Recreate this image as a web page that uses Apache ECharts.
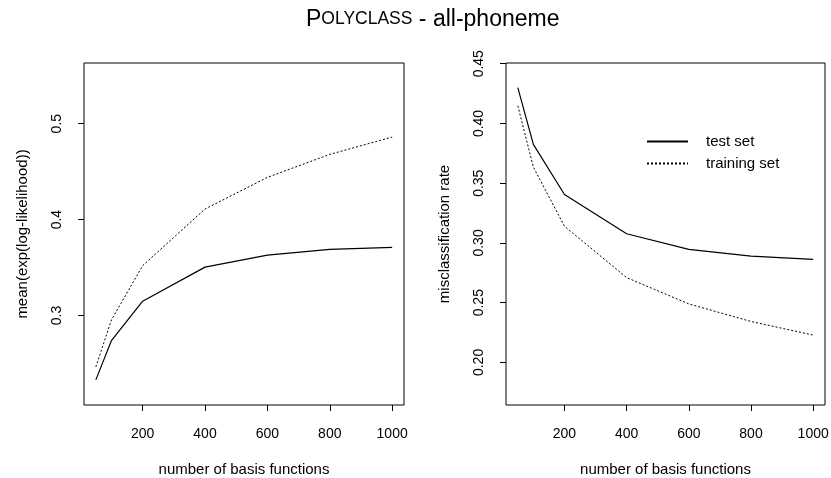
<!DOCTYPE html>
<html>
<head>
<meta charset="utf-8">
<script src="https://cdn.jsdelivr.net/npm/echarts@6/dist/echarts.min.js"></script>
<style>html,body{margin:0;padding:0;background:#fff}#c{width:831px;height:478px}</style>
</head>
<body>
<div id="c"></div>
<script>
// ---- data ----
const basisFunctions = [50, 100, 200, 400, 600, 800, 1000];
const likelihoodTest = [0.233, 0.274, 0.315, 0.3505, 0.363, 0.369, 0.371];
const likelihoodTrain = [0.2465, 0.2955, 0.352, 0.411, 0.444, 0.468, 0.486];
const misclassTest = [0.430, 0.3825, 0.3406, 0.3077, 0.2946, 0.289, 0.2862];
const misclassTrain = [0.4148, 0.3635, 0.314, 0.271, 0.249, 0.2343, 0.2229];
const xTicks = [200, 400, 600, 800, 1000];
const leftYTicks = [0.3, 0.4, 0.5];
const rightYTicks = [0.20, 0.25, 0.30, 0.35, 0.40, 0.45];
const seriesNames = ['test set', 'training set'];

// R-style 4% axis extension
function ext(lo, hi) { const d = (hi - lo) * 0.04; return [lo - d, hi + d]; }
const xr = ext(50, 1000);
const yl = ext(0.22, 0.55);
const yr = ext(0.175, 0.44);

const FONT = 'Liberation Sans, Arial, Helvetica, sans-serif';
const txt = { color: '#000', fontFamily: FONT, fontSize: 14, fontWeight: 'normal' };

function xAxis(i) {
  return {
    gridIndex: i, type: 'value', min: xr[0], max: xr[1],
    axisLine: { show: false },
    splitLine: { show: false },
    axisTick: { show: true, length: 6, customValues: xTicks, lineStyle: { color: '#000' } },
    axisLabel: Object.assign({ customValues: xTicks, margin: 22, formatter: v => String(v) }, txt),
    name: 'number of basis functions', nameLocation: 'middle', nameGap: 57,
    nameTextStyle: Object.assign({}, txt, { fontSize: 15 })
  };
}
function yAxis(i, r, ticks, dec, name) {
  return {
    gridIndex: i, type: 'value', min: r[0], max: r[1],
    axisLine: { show: false },
    splitLine: { show: false },
    axisTick: { show: true, length: 6, customValues: ticks, lineStyle: { color: '#000' } },
    axisLabel: Object.assign({ customValues: ticks, rotate: 90, margin: 20,
      formatter: v => v.toFixed(dec) }, txt),
    name: name, nameLocation: 'middle', nameGap: 54,
    nameTextStyle: Object.assign({}, txt, { fontSize: 15 })
  };
}
function pairs(ys) { return basisFunctions.map((x, k) => [x, ys[k]]); }
const solid = { color: '#000', width: 1.2, type: 'solid' };
const dotted = { color: '#000', width: 1, type: [2, 2] };

const chart = echarts.init(document.getElementById('c'), null, { renderer: 'canvas' });
chart.setOption({
  animation: false,
  backgroundColor: '#fff',
  title: {
    left: 301, top: 3,
    text: '{a|P}{b|OLYCLASS}{a| - all-phoneme}',
    textStyle: {
      fontWeight: 'normal',
      rich: {
        a: { fontFamily: FONT, fontSize: 23, color: '#000', fontWeight: 'normal' },
        b: { fontFamily: FONT, fontSize: 17.5, color: '#000', fontWeight: 'normal' }
      }
    }
  },
  grid: [
    { left: 84, top: 63, width: 320, height: 342, show: true, borderColor: '#000', borderWidth: 1, containLabel: false, outerBoundsMode: 'none' },
    { left: 506, top: 63, width: 319, height: 342, show: true, borderColor: '#000', borderWidth: 1, containLabel: false, outerBoundsMode: 'none' }
  ],
  xAxis: [xAxis(0), xAxis(1)],
  yAxis: [
    yAxis(0, yl, leftYTicks, 1, 'mean(exp(log-likelihood))'),
    yAxis(1, yr, rightYTicks, 2, 'misclassification rate')
  ],
  legend: {
    data: seriesNames,
    orient: 'vertical', left: 646, top: 134, padding: 0,
    itemWidth: 41, itemHeight: 14, itemGap: 7,
    itemStyle: { opacity: 0 },
    textStyle: Object.assign({}, txt, { fontSize: 15, padding: [0, 0, 0, 13] })
  },
  series: [
    { name: seriesNames[0], type: 'line', xAxisIndex: 0, yAxisIndex: 0, data: pairs(likelihoodTest), showSymbol: false, symbol: 'none', lineStyle: solid, itemStyle: { color: '#000' } },
    { name: seriesNames[1], type: 'line', xAxisIndex: 0, yAxisIndex: 0, data: pairs(likelihoodTrain), showSymbol: false, symbol: 'none', lineStyle: dotted, itemStyle: { color: '#000' } },
    { name: seriesNames[0], type: 'line', xAxisIndex: 1, yAxisIndex: 1, data: pairs(misclassTest), showSymbol: false, symbol: 'none', lineStyle: solid, itemStyle: { color: '#000' } },
    { name: seriesNames[1], type: 'line', xAxisIndex: 1, yAxisIndex: 1, data: pairs(misclassTrain), showSymbol: false, symbol: 'none', lineStyle: dotted, itemStyle: { color: '#000' } }
  ]
});
</script>
</body>
</html>
